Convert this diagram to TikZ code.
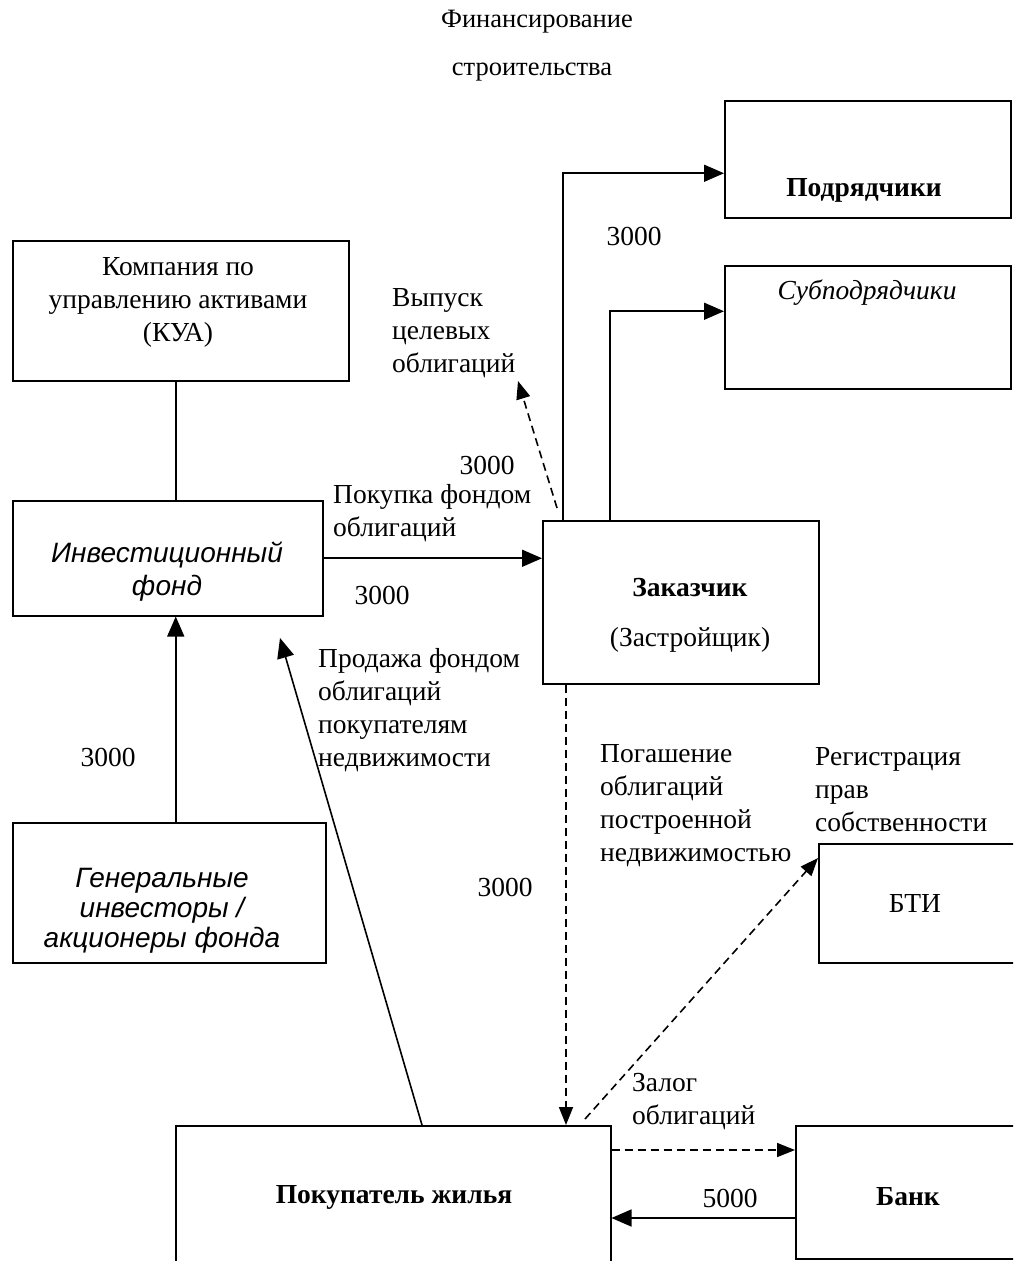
\documentclass[tikz,border=0pt]{standalone}
\usepackage{fontspec}
\setmainfont{Liberation Serif}
\newfontfamily\arialfont{Liberation Sans}
\usetikzlibrary{arrows.meta}
\tikzset{
  box/.style={draw, line width=1.5pt, inner sep=0pt, anchor=north west},
  txt/.style={inner sep=0pt, font=\fontsize{27.5}{33}\selectfont},
  ltxt/.style={txt, align=left, anchor=west},
  ctxt/.style={txt, align=center},
  stxt/.style={inner sep=0pt, align=center, font=\fontsize{28}{30}\selectfont\arialfont\itshape},
  arr/.style={line width=1.6pt, -{Triangle[length=20pt,width=17pt]}},
  darr/.style={line width=1.6pt, dash pattern=on 8pt off 5pt, -{Triangle[length=18pt,width=14pt]}},
  plain/.style={line width=1.5pt}
}
\begin{document}
\begin{tikzpicture}[x=1pt,y=-1pt]
\useasboundingbox (0,0) rectangle (1013,1261);
\clip (0,0) rectangle (1013,1261);
\fill[white] (0,0) rectangle (1013,1261);

% title
\node[ctxt, font=\fontsize{26.5}{33}\selectfont] (t1) at (537,22) {Финансирование};
\node[ctxt, font=\fontsize{26.5}{33}\selectfont] (t2) at (532,72) {строительства};

% boxes
\node[box, minimum width=286pt, minimum height=117pt] (podr) at (724,100) {};
\node[box, minimum width=286pt, minimum height=123pt] (sub) at (724,265) {};
\node[box, minimum width=336pt, minimum height=140pt] (kua) at (12,240) {};
\node[box, minimum width=310pt, minimum height=115pt] (fond) at (12,500) {};
\node[box, minimum width=276pt, minimum height=163pt] (zak) at (542,520) {};
\node[box, minimum width=313pt, minimum height=140pt] (gen) at (12,822) {};
\node[box, minimum width=220pt, minimum height=119pt] (bti) at (818,843) {};
\node[box, minimum width=435pt, minimum height=170pt] (pok) at (175,1125) {};
\node[box, minimum width=240pt, minimum height=133pt] (bank) at (795,1125) {};

% box texts
\node[ctxt, font=\fontsize{27.5}{33}\selectfont\bfseries] (podrt) at (864,190) {Подрядчики};
\node[ctxt, font=\fontsize{27.5}{33}\selectfont\itshape] (subt) at (867,293) {Субподрядчики};
\node[ctxt] (kuat) at (178,302) {Компания по\\управлению активами\\(КУА)};
\node[stxt, font=\fontsize{28}{33}\selectfont\arialfont\itshape] (fondt) at (167,572) {Инвестиционный\\фонд};
\node[ctxt, font=\fontsize{27.5}{33}\selectfont\bfseries] (zakt1) at (690,588) {Заказчик};
\node[ctxt] (zakt2) at (690,640) {(Застройщик)};
\node[stxt] (gent) at (162,911) {Генеральные\\инвесторы /\\акционеры фонда};
\node[ctxt] (btit) at (915,903) {БТИ};
\node[ctxt, font=\fontsize{27.5}{33}\selectfont\bfseries] (pokt) at (394,1197) {Покупатель жилья};
\node[ctxt, font=\fontsize{27.5}{33}\selectfont\bfseries] (bankt) at (908,1197) {Банк};

% labels
\node[ctxt] (n1) at (634,236) {3000};
\node[ltxt] (vyp) at (392,333) {Выпуск\\целевых\\облигаций};
\node[ctxt] (n2) at (487,465) {3000};
\node[ltxt] (pokup) at (333,513) {Покупка фондом\\облигаций};
\node[ctxt] (n3) at (382,595) {3000};
\node[ctxt] (n4) at (108,757) {3000};
\node[ltxt] (prod) at (318,710) {Продажа фондом\\облигаций\\покупателям\\недвижимости};
\node[ctxt] (n5) at (505,887) {3000};
\node[ltxt] (pog) at (600,806) {Погашение\\облигаций\\построенной\\недвижимостью};
\node[ltxt] (reg) at (815,790) {Регистрация\\прав\\собственности};
\node[ltxt] (zal) at (632,1102) {Залог\\облигаций};
\node[ctxt] (n6) at (730,1198) {5000};

% free ends
\coordinate (vyptip) at (518,381);
\coordinate (prodtip) at (280,638);

% connectors
\draw[arr] ([xshift=21pt]zak.north west) |- ([yshift=-14pt]podr.west);
\draw[arr] ([xshift=68pt]zak.north west) |- ([yshift=16pt]sub.west);
\draw[plain] ([xshift=-5pt]kua.south) -- ([xshift=-5pt]kua.south |- fond.north);
\draw[arr] ([xshift=6.5pt]gen.north) -- ([xshift=6.5pt]gen.north |- fond.south);
\draw[arr] (fond.east) -- (fond.east -| zak.west);
\draw[darr] ([xshift=15pt,yshift=12pt]zak.north west) -- (vyptip);
\draw[arr] ([xshift=247pt]pok.north west) -- (prodtip);
\draw[darr] ([xshift=24pt]zak.south west) -- ([xshift=24pt]zak.south west |- pok.north);
\draw[darr] ([xshift=410pt,yshift=6pt]pok.north west) -- ([yshift=-15pt]bti.north west);
\draw[darr] ([yshift=-25pt]pok.north east) -- ([yshift=-25pt]pok.north east -| bank.west);
\draw[arr] ([yshift=-93pt]bank.north west) -- ([yshift=-93pt]bank.north west -| pok.east);
\end{tikzpicture}
\end{document}
